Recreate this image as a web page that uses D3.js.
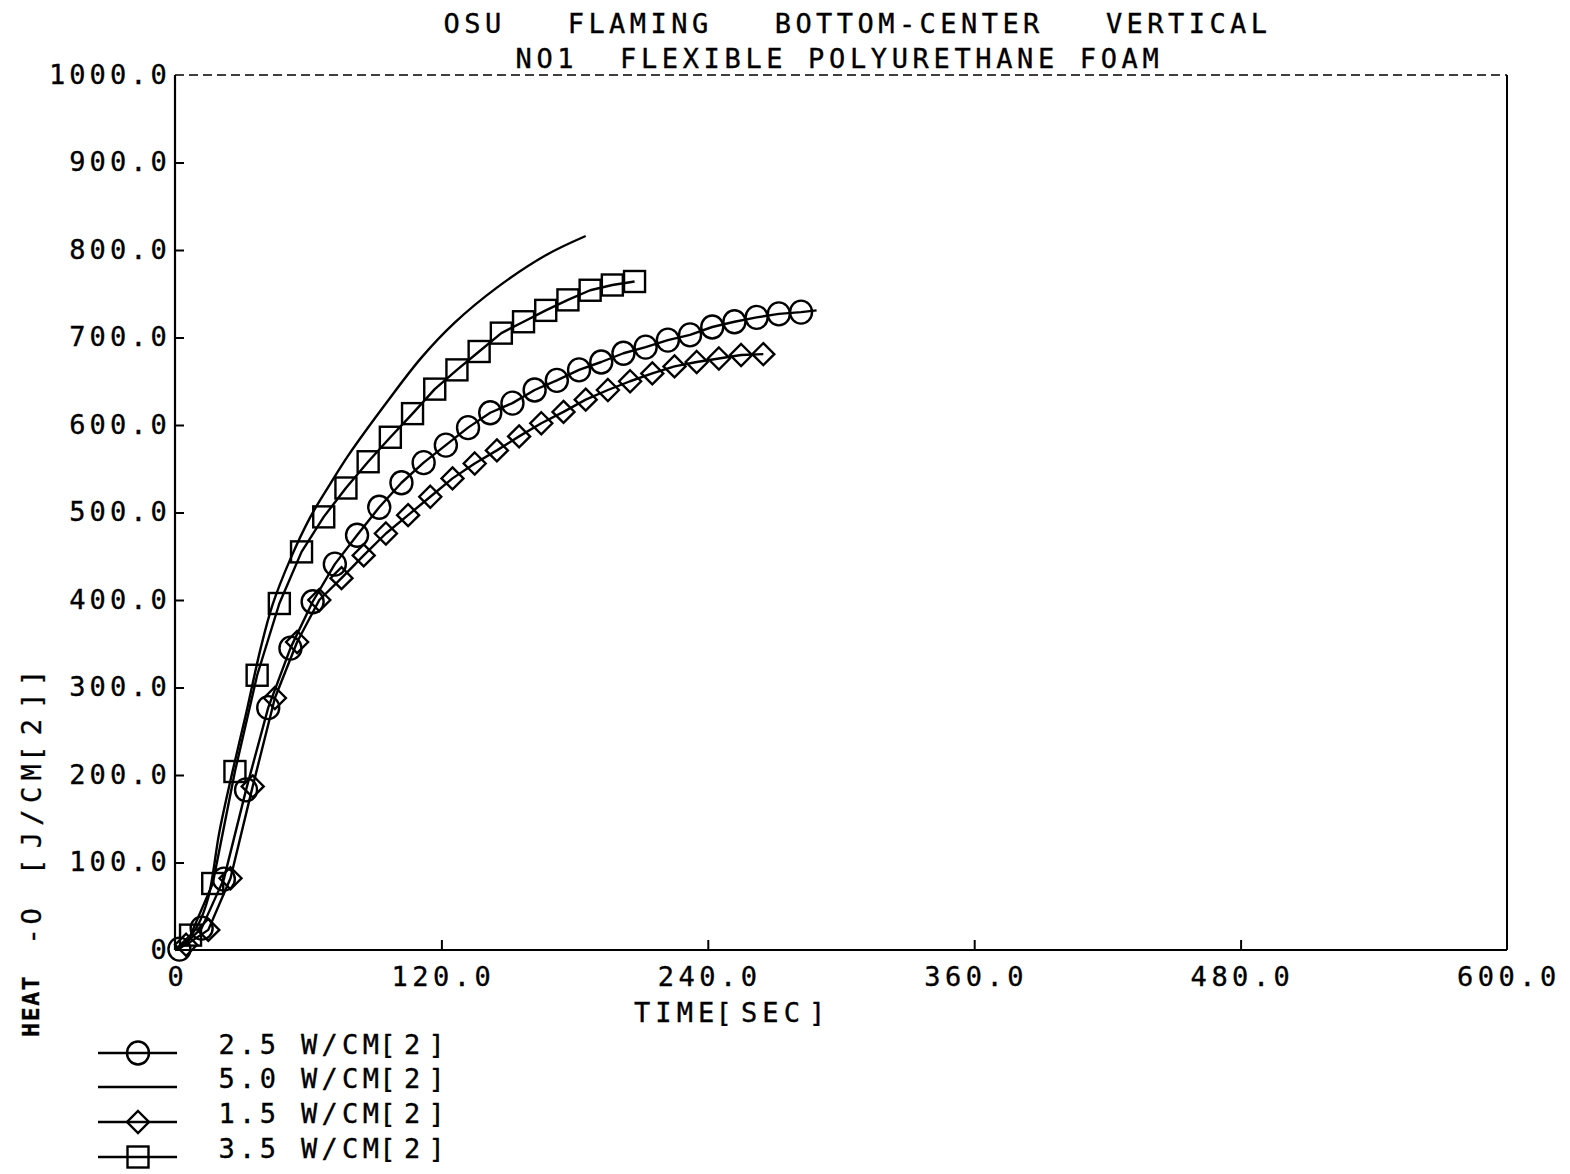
<!DOCTYPE html>
<html>
<head>
<meta charset="utf-8">
<script src="https://cdn.jsdelivr.net/npm/d3@7"></script>
<style>
  html, body { margin: 0; padding: 0; background: #fff; }
  svg { display: block; }
  text { font-family: "DejaVu Sans Mono", "Liberation Mono", monospace; fill: #000; white-space: pre; }
</style>
</head>
<body>
<svg id="chart" width="1570" height="1174"></svg>
<script>
// Heat released per unit area, flaming exposure, foam sample
const titleLines = ["OSU   FLAMING   BOTTOM-CENTER   VERTICAL", "NO1  FLEXIBLE POLYURETHANE FOAM"];
const xTicks = [0, 120, 240, 360, 480, 600];
const xTickLabels = ["0", "120.0", "240.0", "360.0", "480.0", "600.0"];
const yTicks = [0, 100, 200, 300, 400, 500, 600, 700, 800, 900, 1000];
const yTickLabels = ["0", "100.0", "200.0", "300.0", "400.0", "500.0", "600.0", "700.0", "800.0", "900.0", "1000.0"];
const xTitle = "TIME[SEC]";

// 2.5 W/cm2 (circles)
const circleTime = [2, 12, 22, 32, 42, 52, 62, 72, 82, 92, 102, 112, 122, 132, 142, 152, 162, 172, 182, 192, 202, 212, 222, 232, 242, 252, 262, 272, 282];
const circleHeat = [1, 25, 81, 183, 277, 345, 398, 441, 474, 506, 534, 557, 577, 597, 614, 625, 640, 651, 663, 672, 682, 689, 697, 703, 712, 718, 723, 727, 729];
const circleLineEnd = [289, 731];

// 5.0 W/cm2 (plain line)
const solidTime = [0, 4, 10, 15, 20, 26, 32, 38.6, 44, 52, 61, 70, 78, 96, 111, 126, 145, 167, 185];
const solidHeat = [0, 8, 27, 60, 135, 205, 270, 345, 395, 447, 495, 533, 565, 628, 677, 717, 757, 794, 816];

// 1.5 W/cm2 (diamonds)
const diamondTime = [5, 15, 25, 35, 45, 55, 65, 75, 85, 95, 105, 115, 125, 135, 145, 155, 165, 175, 185, 195, 205, 215, 225, 235, 245, 255, 265];
const diamondHeat = [6, 23, 82, 187, 288, 352, 400, 425, 451, 476, 497, 518, 539, 556, 571, 587, 602, 615, 629, 640, 650, 659, 667, 672, 676, 680, 681];

// 3.5 W/cm2 (squares)
const squareTime = [7, 17, 27, 37, 47, 57, 67, 77, 87, 97, 107, 117, 127, 137, 147, 157, 167, 177, 187, 197, 207];
const squareHeat = [17, 76, 204, 314, 396, 455, 495, 528, 558, 586, 613, 641, 663, 684, 705, 718, 731, 743, 754, 760, 764];

const legendLabels = ["2.5 W/CM[2]", "5.0 W/CM[2]", "1.5 W/CM[2]", "3.5 W/CM[2]"];
const legendSymbols = ["circle", "none", "diamond", "square"];
const yLabelParts = ["HEAT", "-O", "[J/CM[2]]"];

const svg = d3.select("#chart");
const W = 1570, H = 1174;
svg.append("rect").attr("width", W).attr("height", H).attr("fill", "#fff");

const plotLeft = 175, plotRight = 1507, plotTop = 75, plotBottom = 950;
const x = d3.scaleLinear().domain([0, 600]).range([plotLeft, plotRight]);
const y = d3.scaleLinear().domain([0, 1000]).range([plotBottom, plotTop]);

// Plotter-style lettering: fixed character pitch, brackets hugging their neighbours
const FS = 27, INK = 14;
function ptext(g, str, px, py, pitch, anchor, opts = {}) {
  const chars = [...str];
  const ink = opts.ink || INK;
  const span = (chars.length - 1) * pitch + ink;
  const x0 = anchor === "end" ? px - span : anchor === "middle" ? px - span / 2 : px;
  const xs = chars.map((c, i) => x0 + i * pitch - 1.5 + (c === "[" ? -4 : c === "]" ? 4 : 0));
  const t = g.append("text")
    .attr("x", xs.map(v => v.toFixed(1)).join(" "))
    .attr("y", py)
    .attr("font-size", opts.size || FS)
    .attr("dominant-baseline", "central")
    .attr("stroke", "#000").attr("stroke-width", 0.35)
    .text(str);
  if (opts.weight) t.attr("font-weight", opts.weight);
  return t;
}

// frame: solid left/bottom/right, dashed top
const frame = svg.append("g").attr("stroke", "#000").attr("fill", "none");
frame.append("line").attr("x1", plotLeft).attr("y1", plotTop).attr("x2", plotLeft).attr("y2", plotBottom).attr("stroke-width", 2.2);
frame.append("line").attr("x1", plotLeft).attr("y1", plotBottom).attr("x2", plotRight).attr("y2", plotBottom).attr("stroke-width", 2.2);
frame.append("line").attr("x1", plotRight).attr("y1", plotTop).attr("x2", plotRight).attr("y2", plotBottom).attr("stroke-width", 2);
frame.append("line").attr("x1", plotLeft).attr("y1", plotTop).attr("x2", plotRight).attr("y2", plotTop)
  .attr("stroke-width", 1.6).attr("stroke-dasharray", "9 5");

// y axis ticks (inward) and labels
const yAxis = d3.axisRight(y).tickValues(yTicks.filter(v => v > 0 && v < 1000)).tickSize(9).tickFormat("");
const gy = svg.append("g").attr("transform", `translate(${plotLeft},0)`).call(yAxis);
gy.select(".domain").remove();
gy.selectAll("line").attr("stroke", "#000").attr("stroke-width", 2);
const gyl = svg.append("g");
yTicks.forEach((v, i) => {
  ptext(gyl, yTickLabels[i], plotLeft - 9, y(v) - 1, 20.3, "end");
});

// x axis ticks (inward) and labels
const xAxis = d3.axisTop(x).tickValues(xTicks.filter(v => v > 0 && v < 600)).tickSize(10).tickFormat("");
const gx = svg.append("g").attr("transform", `translate(0,${plotBottom})`).call(xAxis);
gx.select(".domain").remove();
gx.selectAll("line").attr("stroke", "#000").attr("stroke-width", 2);
const gxl = svg.append("g");
xTicks.forEach((v, i) => {
  ptext(gxl, xTickLabels[i], x(v) + (v === 0 ? 1 : 0), plotBottom + 26, 20.75, "middle");
});
ptext(svg, xTitle, 728, 1012, 21.4, "middle");

// titles
ptext(svg, titleLines[0], 445, 23, 20.7, "start");
ptext(svg, titleLines[1], 517, 58, 20.9, "start");

// y axis title, rotated (reads bottom to top)
function vtext(cy, str, pitch, opts = {}) {
  const g = svg.append("g").attr("transform", `translate(31,${cy}) rotate(-90)`);
  ptext(g, str, 0, 0, pitch, "middle", opts);
}
vtext(1005, yLabelParts[0], 15.5, { size: 23, weight: "bold", ink: 14 });
vtext(926, yLabelParts[1], 20);
vtext(772, yLabelParts[2], 22.6);

// series
const plot = svg.append("g");
const lineGen = d3.line().x(d => x(d[0])).y(d => y(d[1]));
const smoothGen = d3.line().x(d => x(d[0])).y(d => y(d[1])).curve(d3.curveCatmullRom.alpha(0.5));

function zip(a, b) { return a.map((v, i) => [v, b[i]]); }

const circlePts = zip(circleTime, circleHeat);
const diamondPts = zip(diamondTime, diamondHeat);
const squarePts = zip(squareTime, squareHeat);
const solidPts = zip(solidTime, solidHeat);

const lineStyle = p => p.attr("fill", "none").attr("stroke", "#000").attr("stroke-width", 2.4).attr("stroke-linejoin", "round");

plot.append("path").datum([[0, 0]].concat(circlePts, [circleLineEnd])).attr("d", lineGen).call(lineStyle);
plot.append("path").datum([[0, 0]].concat(diamondPts)).attr("d", lineGen).call(lineStyle);
plot.append("path").datum([[0, 0]].concat(squarePts)).attr("d", lineGen).call(lineStyle);
plot.append("path").datum(solidPts).attr("d", smoothGen).call(lineStyle);

function drawSymbol(g, kind, cx, cy) {
  const s = g.append("g").attr("fill", "none").attr("stroke", "#000").attr("stroke-width", 2.4);
  if (kind === "circle") {
    s.append("ellipse").attr("cx", cx).attr("cy", cy).attr("rx", 11).attr("ry", 11.5);
  } else if (kind === "square") {
    s.append("rect").attr("x", cx - 10.5).attr("y", cy - 10.5).attr("width", 21).attr("height", 21);
  } else if (kind === "diamond") {
    s.append("path").attr("d", `M${cx},${cy - 11}L${cx + 11},${cy}L${cx},${cy + 11}L${cx - 11},${cy}Z`);
  }
}

circlePts.forEach(d => drawSymbol(plot, "circle", x(d[0]), y(d[1])));
diamondPts.forEach(d => drawSymbol(plot, "diamond", x(d[0]), y(d[1])));
squarePts.forEach(d => drawSymbol(plot, "square", x(d[0]), y(d[1])));

// legend
const legend = svg.append("g");
const rowY = [1053, 1087, 1122, 1157];
legendLabels.forEach((s, i) => {
  legend.append("line").attr("x1", 98).attr("x2", 177).attr("y1", rowY[i]).attr("y2", rowY[i])
    .attr("stroke", "#000").attr("stroke-width", 2.4);
  drawSymbol(legend, legendSymbols[i], 138, rowY[i]);
  ptext(legend, s, 220, rowY[i] - 9, 20.6, "start");
});
</script>
</body>
</html>
